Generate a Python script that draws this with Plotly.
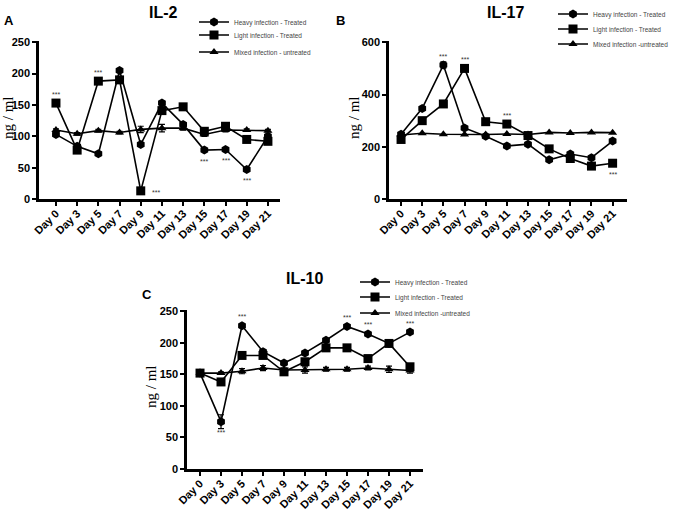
import plotly.graph_objects as go

W, H = 673, 510

DAYS = ["Day 0", "Day 3", "Day 5", "Day 7", "Day 9", "Day 11",
        "Day 13", "Day 15", "Day 17", "Day 19", "Day 21"]

# IL-2 (ng/ml)
IL2_HEAVY = [103, 84, 72, 205, 87, 153, 119, 78, 79, 47, 100]
IL2_LIGHT = [153, 78, 188, 190, 13, 141, 147, 108, 116, 95, 92]
IL2_MIXED = [110, 104, 109, 106, 111, 113, 113, 103, 110, 110, 109]
IL2_MIXED_ERR = [2, 2, 2, 2, 5, 6, 3, 3, 3, 2, 2]

# IL-17 (ng/ml)
IL17_HEAVY = [248, 347, 513, 272, 240, 203, 210, 150, 172, 158, 222]
IL17_LIGHT = [228, 300, 364, 500, 296, 287, 243, 192, 155, 126, 137]
IL17_MIXED = [245, 252, 248, 247, 247, 249, 247, 255, 253, 255, 254]
IL17_HEAVY_ERR = [4, 5, 12, 5, 4, 4, 4, 4, 4, 4, 5]

# IL-10 (ng/ml)
IL10_HEAVY = [152, 75, 227, 186, 168, 184, 204, 226, 214, 199, 217]
IL10_LIGHT = [152, 138, 180, 180, 154, 170, 192, 192, 175, 199, 162]
IL10_MIXED = [152, 152, 155, 160, 157, 157, 158, 158, 160, 158, 156]
IL10_HEAVY_ERR = [2, 11, 2, 2, 2, 2, 2, 2, 2, 2, 2]
IL10_MIXED_ERR = [2, 2, 4, 4, 3, 5, 3, 3, 3, 5, 4]

# significance marks: (series, day index, where)
SIG_IL2 = [("light", 0, "above"), ("light", 2, "above"), ("light", 4, "right"),
           ("heavy", 7, "below"), ("heavy", 8, "below"), ("heavy", 9, "below")]
SIG_IL17 = [("heavy", 2, "above"), ("light", 3, "above"), ("light", 5, "above"),
            ("light", 10, "below")]
SIG_IL10 = [("heavy", 1, "below"), ("heavy", 2, "above"), ("heavy", 7, "above"),
            ("heavy", 8, "above"), ("heavy", 10, "above")]

NAMES = {"heavy": "Heavy infection - Treated",
         "light": "Light infection - Treated"}

SANS = "Liberation Sans, Arial, sans-serif"
SERIF = "Liberation Serif, Times New Roman, serif"
INK = "#000000"


def px(x):
    return x / W


def py(y):
    return 1 - y / H


# pixel boxes: axis left/right, axis bottom/top.
# Each legend row is its own one-item legend so the rows can sit as tight
# as the original (Plotly's minimum row height is ~19 px).
PANELS = [
    {"letter": "A", "title": "IL-2", "ax": "",
     "heavy": IL2_HEAVY, "light": IL2_LIGHT, "mixed": IL2_MIXED,
     "heavy_err": None, "mixed_err": IL2_MIXED_ERR, "sig": SIG_IL2,
     "mixed_name": "Mixed infection - untreated",
     "box": (39, 280, 199, 41), "xrange": [-0.8, 10.57], "yrange": [0, 252], "dtick": 50,
     "title_xy": (163, 12), "letter_xy": (9, 21), "ylab_xy": (8, 118),
     "legend_x": 194, "legend_rows": (22, 35, 52)},
    {"letter": "B", "title": "IL-17", "ax": "2",
     "heavy": IL17_HEAVY, "light": IL17_LIGHT, "mixed": IL17_MIXED,
     "heavy_err": IL17_HEAVY_ERR, "mixed_err": None, "sig": SIG_IL17,
     "mixed_name": "Mixed infection -untreated",
     "box": (389, 627, 199, 41), "xrange": [-0.57, 10.68], "yrange": [0, 605], "dtick": 200,
     "title_xy": (505, 12), "letter_xy": (340, 21), "ylab_xy": (354, 118),
     "legend_x": 553, "legend_rows": (14, 29, 44)},
    {"letter": "C", "title": "IL-10", "ax": "3",
     "heavy": IL10_HEAVY, "light": IL10_LIGHT, "mixed": IL10_MIXED,
     "heavy_err": IL10_HEAVY_ERR, "mixed_err": IL10_MIXED_ERR, "sig": SIG_IL10,
     "mixed_name": "Mixed infection -untreated",
     "box": (187, 423, 469, 310), "xrange": [-0.62, 10.62], "yrange": [0, 252], "dtick": 50,
     "title_xy": (304, 278), "letter_xy": (147, 294), "ylab_xy": (151, 387),
     "legend_x": 355, "legend_rows": (282, 297, 313)},
]

MARKERS = {"heavy": ("hexagon", 9), "light": ("square", 9), "mixed": ("triangle-up", 8)}

fig = go.Figure()
annotations = []
layout = {}
legend_no = 0

for p in PANELS:
    xa, ya = "x" + p["ax"], "y" + p["ax"]
    errs = {"heavy": p["heavy_err"], "light": None, "mixed": p["mixed_err"]}
    names = dict(NAMES, mixed=p["mixed_name"])
    for key, row_y in zip(("heavy", "light", "mixed"), p["legend_rows"]):
        legend_no += 1
        lid = "legend" if legend_no == 1 else "legend%d" % legend_no
        sym, size = MARKERS[key]
        trace = dict(
            x=DAYS, y=p[key], xaxis=xa, yaxis=ya, name=names[key],
            mode="lines+markers", legend=lid, cliponaxis=False,
            line={"color": INK, "width": 1.6},
            marker={"symbol": sym, "size": size, "color": INK},
        )
        if errs[key] is not None:
            trace["error_y"] = {"type": "data", "array": errs[key], "color": INK,
                                "thickness": 1.2, "width": 3}
        fig.add_trace(go.Scatter(**trace))
        layout[lid] = dict(
            x=px(p["legend_x"]), y=py(row_y), xanchor="left", yanchor="middle",
            bgcolor="rgba(0,0,0,0)", borderwidth=0, itemwidth=30,
            font={"family": SANS, "size": 6.5, "color": "#444444"},
        )

    for key, i, where in p["sig"]:
        shift = {"above": (0, 9), "below": (0, -11), "right": (15, -2)}[where]
        annotations.append(dict(
            x=DAYS[i], y=p[key][i], xref=xa, yref=ya, text="***", showarrow=False,
            xshift=shift[0], yshift=shift[1],
            font={"family": SANS, "size": 7, "color": "#333333"},
        ))

    x0, x1, yb, yt = p["box"]
    axis_common = dict(
        showline=True, linecolor=INK, linewidth=2.5, showgrid=False, zeroline=False,
        ticks="outside", ticklen=4, tickwidth=2, tickcolor=INK,
    )
    # the day labels hug the tick ends in the original, so pull them in a little
    layout["xaxis" + p["ax"]] = dict(
        axis_common, domain=[px(x0), px(x1)], range=p["xrange"], type="category",
        anchor=ya, tickangle=-45, automargin=False, ticklabelstandoff=-3,
        tickfont={"family": SANS, "size": 11, "color": INK, "weight": 700},
    )
    layout["yaxis" + p["ax"]] = dict(
        axis_common, domain=[py(yb), py(yt)], range=p["yrange"], dtick=p["dtick"],
        anchor=xa, automargin=False, tick0=0,
        tickfont={"family": SANS, "size": 11, "color": INK, "weight": 700},
    )

    centred = dict(xref="paper", yref="paper", showarrow=False,
                   xanchor="center", yanchor="middle")
    tx, ty = p["title_xy"]
    annotations.append(dict(centred, x=px(tx), y=py(ty), text="<b>%s</b>" % p["title"],
                            font={"family": SANS, "size": 16, "color": INK}))
    cx, cy = p["letter_xy"]
    annotations.append(dict(centred, x=px(cx), y=py(cy), text="<b>%s</b>" % p["letter"],
                            font={"family": SANS, "size": 13, "color": INK}))
    gx, gy = p["ylab_xy"]
    annotations.append(dict(centred, x=px(gx), y=py(gy), text="ng / ml", textangle=-90,
                            font={"family": SERIF, "size": 15, "color": INK}))

fig.update_layout(
    width=W, height=H,
    margin={"l": 0, "r": 0, "t": 0, "b": 0, "autoexpand": False},
    paper_bgcolor="#ffffff", plot_bgcolor="#ffffff",
    showlegend=True,
    annotations=annotations,
    **layout,
)

# the page's default 8px body margin would push the figure off the window
fig.write_html("out.html", config={"displayModeBar": False},
               post_script="document.body.style.margin = '0';")
